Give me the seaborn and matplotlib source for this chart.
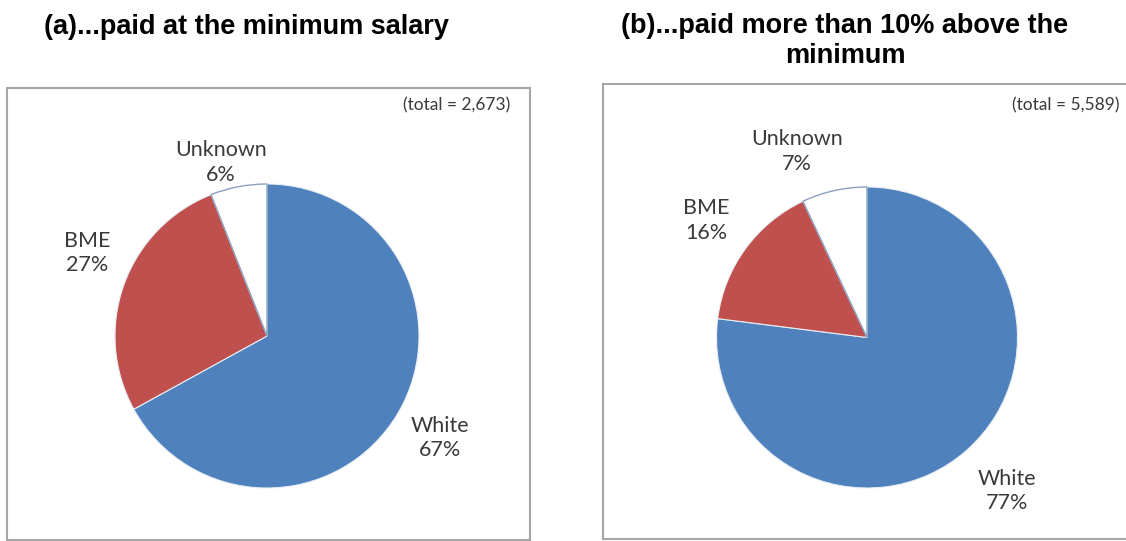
import numpy as np
import matplotlib
matplotlib.use("Agg")
import matplotlib.pyplot as plt
import seaborn as sns

# Staff share by ethnicity for two pay bands
categories = ["White", "BME", "Unknown"]
share_min = [67, 27, 6]
share_above = [77, 16, 7]
totals = ["2,673", "5,589"]
titles = ["(a)...paid at the minimum salary",
          "(b)...paid more than 10% above the\nminimum"]

sns.set_theme(style="white")
plt.rcParams["font.family"] = ["Lato", "DejaVu Sans"]

colors = ["#4F81BD", "#C0504D", "#FFFFFF"]
label_color = "#3a3a3a"

W, H = 1126, 541
fig = plt.figure(figsize=(W / 100, H / 100), dpi=100)
fig.patch.set_facecolor("white")

# panel boxes in pixel units: left, top, right, bottom
boxes = [(7, 88, 530, 540), (603, 84, 1130, 539)]
centers = [(267, 336), (867, 337.5)]
radii = [152, 150.5]
label_dist = [[1.32, 1.30, 1.18], [1.38, 1.32, 1.32]]
label_angle_shift = [[0, -5, 4], [1, 0, 8]]
title_x = [247, 845]
title_y = [27, 41]
total_right = [510, 1120]

for i, values in enumerate([share_min, share_above]):
    l, t, r, b = boxes[i]
    ax = fig.add_axes([l / W, (H - b) / H, (r - l) / W, (b - t) / H])
    ax.set_xlim(0, r - l)
    ax.set_ylim(0, b - t)
    cx, cy = centers[i][0] - l, b - centers[i][1]
    rad = radii[i]
    wedges, _ = ax.pie(values, colors=colors, startangle=90, counterclock=False,
                       center=(cx, cy), radius=rad, frame=True,
                       wedgeprops=dict(edgecolor="#e8eef6", linewidth=0.8))
    wedges[2].set_edgecolor("#8aa0bc")
    wedges[2].set_linewidth(1.0)
    ax.set_aspect("auto")
    ax.set_xlim(0, r - l)
    ax.set_ylim(0, b - t)
    ax.set_xticks([])
    ax.set_yticks([])
    for sp in ax.spines.values():
        sp.set_visible(True)
        sp.set_color("#a6a6a6")
        sp.set_linewidth(1.5)

    for j, (w, name, v) in enumerate(zip(wedges, categories, values)):
        ang = np.deg2rad((w.theta1 + w.theta2) / 2 + label_angle_shift[i][j])
        d = label_dist[i][j] * rad
        ax.text(cx + d * np.cos(ang), cy + d * np.sin(ang), f"{name}\n{v}%",
                ha="center", va="center", fontsize=15.5, color=label_color,
                linespacing=1.28)

    ax.text(total_right[i] - l, b - 105, f"(total = {totals[i]})",
            ha="right", va="center", fontsize=12.5, color=label_color)

    fig.text(title_x[i] / W, 1 - title_y[i] / H, titles[i], ha="center",
             va="center", fontsize=19.5, fontweight="bold",
             family=["Liberation Sans", "DejaVu Sans"], color="black",
             linespacing=1.2)

fig.savefig("out.png", dpi=100, facecolor="white")
